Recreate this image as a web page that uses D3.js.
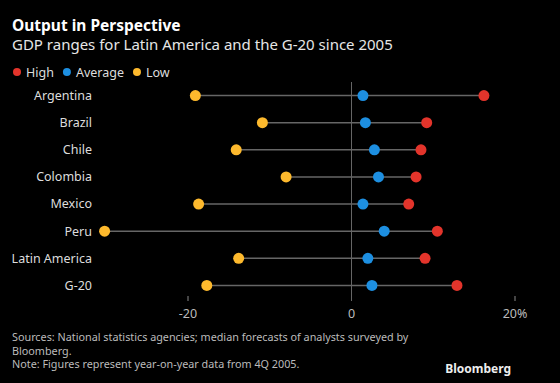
<!DOCTYPE html>
<html>
<head>
<meta charset="utf-8">
<script src="https://cdn.jsdelivr.net/npm/d3@7"></script>
<style>
  body { margin: 0; background: #000; }
  svg { display: block; font-family: "Noto Sans", sans-serif; }
</style>
</head>
<body>
<div id="chart"></div>
<script>
// chart values
var countries = ["Argentina", "Brazil", "Chile", "Colombia", "Mexico", "Peru", "Latin America", "G-20"];
var highs = [16.2, 9.2, 8.5, 7.9, 7.0, 10.5, 9.0, 12.9];
var avgs = [1.4, 1.7, 2.8, 3.3, 1.4, 4.0, 2.0, 2.5];
var lows = [-19.1, -10.9, -14.1, -8.0, -18.7, -30.2, -13.8, -17.7];
var xTicks = [-20, 0, 20];

var legendItems = [
  { name: "High", color: "#e3342b" },
  { name: "Average", color: "#1d8fe1" },
  { name: "Low", color: "#fdb92d" }
];

var W = 560, H = 383;
var svg = d3.select("#chart").append("svg")
    .attr("width", W).attr("height", H);

svg.append("rect").attr("width", W).attr("height", H).attr("fill", "#000");

// titles
svg.append("text")
    .attr("x", 12).attr("y", 31)
    .attr("fill", "#fff")
    .attr("font-size", 15.5).attr("font-weight", "bold")
    .text("Output in Perspective");
svg.append("text")
    .attr("x", 12).attr("y", 50)
    .attr("fill", "#e6e6e6")
    .attr("font-size", 15)
    .text("GDP ranges for Latin America and the G-20 since 2005");

// legend
var lx = 17;
legendItems.forEach(function(d) {
    svg.append("circle").attr("cx", lx).attr("cy", 72).attr("r", 4).attr("fill", d.color);
    var t = svg.append("text")
        .attr("x", lx + 9).attr("y", 76.5)
        .attr("fill", "#ddd").attr("font-size", 12.5)
        .text(d.name);
    lx += 9 + t.node().getComputedTextLength() + 13;
});

// scales
var x = d3.scaleLinear().domain([-20, 20]).range([188, 515]);
var y = d3.scaleBand().domain(countries).range([82, 299]);

// zero line
svg.append("line")
    .attr("x1", x(0)).attr("x2", x(0))
    .attr("y1", 82).attr("y2", 301)
    .attr("stroke", "#666").attr("stroke-width", 1);

// ticks
var tick = svg.selectAll(".tick").data(xTicks).enter().append("g")
    .attr("class", "tick")
    .attr("transform", function(d) { return "translate(" + x(d) + ",0)"; });
tick.filter(function(d) { return d !== 0; }).append("line")
    .attr("y1", 296).attr("y2", 301)
    .attr("stroke", "#888");
tick.append("text")
    .attr("y", 318).attr("text-anchor", "middle")
    .attr("fill", "#bbb").attr("font-size", 12.5)
    .text(function(d) { return d === 20 ? "20%" : d; });

// rows
var rows = svg.selectAll(".row").data(countries).enter().append("g")
    .attr("class", "row")
    .attr("transform", function(d) { return "translate(0," + (y(d) + y.bandwidth() / 2) + ")"; });

rows.append("text")
    .attr("x", 92).attr("dy", "0.35em")
    .attr("text-anchor", "end")
    .attr("fill", "#ddd").attr("font-size", 12.5)
    .text(function(d) { return d; });

rows.append("line")
    .attr("x1", function(d, i) { return x(lows[i]); })
    .attr("x2", function(d, i) { return x(highs[i]); })
    .attr("stroke", "#666").attr("stroke-width", 1.5);

rows.append("circle").attr("r", 5.5).attr("fill", legendItems[2].color)
    .attr("cx", function(d, i) { return x(lows[i]); });
rows.append("circle").attr("r", 5.5).attr("fill", legendItems[1].color)
    .attr("cx", function(d, i) { return x(avgs[i]); });
rows.append("circle").attr("r", 5.5).attr("fill", legendItems[0].color)
    .attr("cx", function(d, i) { return x(highs[i]); });

// footer
var foot = ["Sources: National statistics agencies; median forecasts of analysts surveyed by",
            "Bloomberg.",
            "Note: Figures represent year-on-year data from 4Q 2005."];
svg.selectAll(".foot").data(foot).enter().append("text")
    .attr("class", "foot")
    .attr("x", 12).attr("y", function(d, i) { return 341 + i * 13.5; })
    .attr("fill", "#bbb").attr("font-size", 10.8)
    .text(function(d) { return d; });

svg.append("text")
    .attr("x", 511).attr("y", 373)
    .attr("text-anchor", "end")
    .attr("fill", "#eee").attr("font-size", 12).attr("font-weight", "bold")
    .text("Bloomberg");
</script>
</body>
</html>
